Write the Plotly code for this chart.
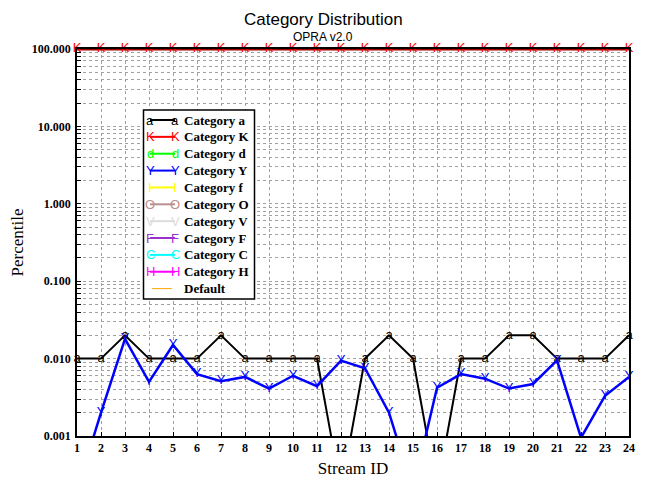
import plotly.graph_objects as go

stream_ids = list(range(1, 25))
cat_a = [0.01, 0.01, 0.02, 0.01, 0.01, 0.01, 0.02, 0.01, 0.01, 0.01, 0.01, 0.0002,
         0.01, 0.02, 0.01, 0.0002, 0.01, 0.01, 0.02, 0.02, 0.01, 0.01, 0.01, 0.02]
cat_K = [100.0] * 24
cat_Y = [0.0002, 0.002, 0.018, 0.005, 0.015, 0.0063, 0.0051, 0.0058, 0.0041, 0.006, 0.0044, 0.0094,
         0.0075, 0.002, 0.0002, 0.0042, 0.0063, 0.0055, 0.0041, 0.0047, 0.0095, 0.00095, 0.0033, 0.0058]

y_tick_major = [0.001, 0.01, 0.1, 1, 10, 100]
y_tick_labels = ["0.001", "0.010", "0.100", "1.000", "10.000", "100.000"]

legend_names = ["Category a", "Category K", "Category d", "Category Y", "Category f",
                "Category O", "Category V", "Category F", "Category C", "Category H", "Default"]
legend_glyphs = ["a", "K", "d", "Y", "I", "O", "V", "F", "C", "H", ""]
legend_colors = ["#000000", "#ff0000", "#00ff00", "#0000ff", "#ffff00",
                 "#bc8f8f", "#dcdcdc", "#9932cc", "#00ffff", "#ff00ff", "#ffa500"]

YMIN = 0.001

# page body has an 8px margin: the figure is drawn 8px right/down of the window corner
OFF = 8
W, H = 645 - OFF, 486 - OFF
L, R, T, B = 77 - OFF, 16, 49 - OFF, 50
PW, PH = W - L - R, H - T - B


def px(x):  # window pixel -> paper
    return (x - OFF - L) / PW


def py(y):
    return (H - B - (y - OFF)) / PH


fig = go.Figure()


def add_series(vals, glyph, color, lw, linecolor=None):
    fig.add_trace(go.Scatter(
        x=stream_ids, y=vals, mode="lines+text",
        text=[glyph if v >= YMIN else "" for v in vals],
        textposition="middle center",
        textfont=dict(family="Liberation Sans", size=13, color=color),
        line=dict(color=linecolor or color, width=lw),
        cliponaxis=False, showlegend=False,
    ))


add_series(cat_a, "a", "#000000", 2)
add_series(cat_Y, "Y", "#0000ff", 2.5)
add_series(cat_K, "K", "#ff0000", 3, linecolor="#a00000")

# y tick values incl. minor positions
tickvals, ticktext = [], []
for i, d in enumerate(y_tick_major):
    tickvals.append(d)
    ticktext.append(y_tick_labels[i])
    if d < 100:
        for m in range(2, 10):
            tickvals.append(d * m)
            ticktext.append("")

tickfont = dict(family="Liberation Serif", size=12, color="#000000", weight="bold")

fig.update_xaxes(range=[1, 24], tickvals=stream_ids, ticktext=[str(s) for s in stream_ids],
                 showgrid=True, gridcolor="#a0a0a0", griddash="dot", gridwidth=1,
                 showline=True, linecolor="#000000", linewidth=1.5, mirror=True,
                 ticks="inside", ticklen=4, tickcolor="#000000", zeroline=False,
                 tickfont=tickfont, automargin=False,
                 title=dict(text="Stream ID", font=dict(family="Liberation Serif", size=17, color="#000000"),
                            standoff=8))
fig.update_yaxes(type="log", range=[-3, 2], tickvals=tickvals, ticktext=ticktext,
                 showgrid=True, gridcolor="#a0a0a0", griddash="dot", gridwidth=1,
                 showline=True, linecolor="#000000", linewidth=1.5, mirror=True,
                 ticks="inside", ticklen=4, tickcolor="#000000", zeroline=False,
                 tickfont=tickfont, ticklabelstandoff=2, automargin=False,
                 title=dict(text="Percentile", font=dict(family="Liberation Serif", size=17, color="#000000"),
                            standoff=6))

shapes, annotations = [], []
# legend box
shapes.append(dict(type="rect", xref="paper", yref="paper",
                   x0=px(143.5), x1=px(254.5), y0=py(110), y1=py(299),
                   line=dict(color="#000000", width=1.5), fillcolor="#ffffff", layer="above"))
for i, (name, g, c) in enumerate(zip(legend_names, legend_glyphs, legend_colors)):
    yy = 120.0 + i * 16.86
    lw = 1 if g == "" else 2
    x0, x1 = (152, 172) if g == "" else (150, 175)
    shapes.append(dict(type="line", xref="paper", yref="paper",
                       x0=px(x0), x1=px(x1), y0=py(yy), y1=py(yy),
                       line=dict(color=c, width=lw), layer="above"))
    if g:
        for xx in (150, 175):
            annotations.append(dict(x=px(xx), y=py(yy), xref="paper", yref="paper",
                                    text=g, showarrow=False, xanchor="center", yanchor="middle",
                                    font=dict(family="Liberation Sans", size=13, color=c)))
    annotations.append(dict(x=px(182), y=py(yy), xref="paper", yref="paper",
                            text="<b>" + name + "</b>", showarrow=False,
                            xanchor="left", yanchor="middle",
                            font=dict(family="Liberation Serif", size=13, color="#000000")))

annotations.append(dict(x=px(323), y=py(8), xref="paper", yref="paper", text="Category Distribution",
                        showarrow=False, xanchor="center", yanchor="top",
                        font=dict(family="Liberation Sans", size=17, color="#000000")))
annotations.append(dict(x=px(323), y=py(37), xref="paper", yref="paper", text="OPRA v2.0",
                        showarrow=False, xanchor="center", yanchor="middle",
                        font=dict(family="Liberation Sans", size=12, color="#000000")))

fig.update_layout(width=W, height=H, margin=dict(l=L, r=R, t=T, b=B),
                  paper_bgcolor="#ffffff", plot_bgcolor="#ffffff",
                  shapes=shapes, annotations=annotations, showlegend=False)

fig.write_html("out.html")
